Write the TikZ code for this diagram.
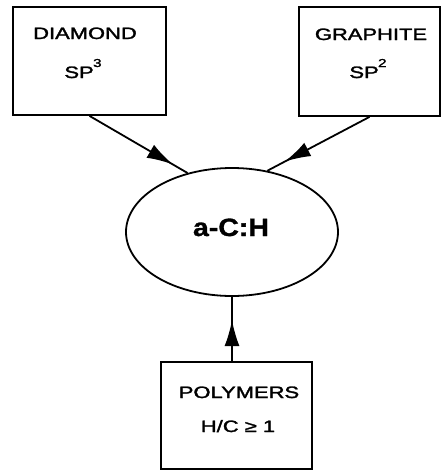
\documentclass[tikz,border=0pt]{standalone}
\usepackage{fontspec}
\setmainfont{Liberation Sans}
\newfontfamily\scanfont[FakeBold=1.6]{Liberation Sans}
\newfontfamily\scanbold[FakeBold=1.2]{Liberation Sans Bold}
\usetikzlibrary{shapes.geometric,arrows.meta,decorations.markings}
\newcommand{\wide}[1]{\scalebox{1.33}[1]{#1}}
\newcommand{\hisup}[1]{\kern-0.5pt\raisebox{11pt}{\fontsize{11.5}{12}\selectfont #1}}
\begin{document}
\begin{tikzpicture}[x=1pt,y=-1pt,
  matbox/.style={draw,line width=1.8pt,inner sep=0pt},
  lbl/.style={anchor=base,inner sep=0pt,font=\scanfont\fontsize{16.5}{18}\selectfont},
  biglbl/.style={anchor=base,inner sep=0pt,font=\scanbold\fontsize{25}{28}\selectfont},
  conn/.style={line width=1.8pt,postaction={decorate},
    decoration={markings,mark=at position #1 with {\arrow{Latex[length=26pt,width=15pt]}}}}
]
\useasboundingbox (0,0) rectangle (442,474);
% boxes
\node[matbox,minimum width=153pt,minimum height=108pt] (d) at (89.5,61) {};
\node[matbox,minimum width=141pt,minimum height=109pt] (g) at (369.5,61.5) {};
\node[matbox,minimum width=151pt,minimum height=107pt] (p) at (236.5,415.5) {};
\node[draw,ellipse,line width=1.8pt,inner sep=0pt,minimum width=212pt,minimum height=128pt] (e) at (232,232) {};
% texts
\node[lbl] (dt1) at (85,39) {\wide{DIAMOND}};
\node[lbl] (dt2) at (83,78) {\wide{SP\hisup{3}}};
\node[lbl] (gt1) at (371,40) {\wide{GRAPHITE}};
\node[lbl] (gt2) at (368,78) {\wide{SP\hisup{2}}};
\node[lbl] (pt1) at (239,398) {\wide{POLYMERS}};
\node[lbl] (pt2) at (238,432) {\wide{H/C ≥ 1}};
\node[biglbl] (et) at (231,236) {\scalebox{1.14}[1]{a-C:H}};
% connectors
\draw[conn=0.85] (d.south) -- (e.127);
\draw[conn=0.83] (g.south) -- (e.60);
\draw[conn=0.64] (e.south |- p.north) -- (e.south);
\end{tikzpicture}
\end{document}
